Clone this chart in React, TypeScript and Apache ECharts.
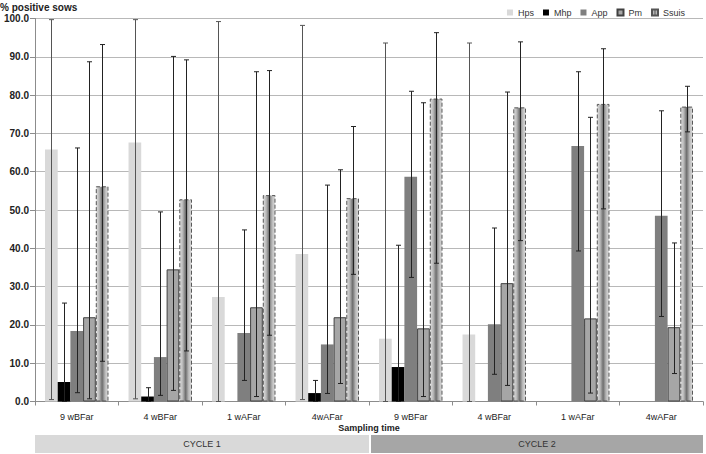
import React, { useEffect, useRef } from "react";
import * as echarts from "echarts";

const categories = ["9 wBFar", "4 wBFar", "1 wAFar", "4wAFar", "9 wBFar", "4 wBFar", "1 wAFar", "4wAFar"];
const cycles = ["CYCLE 1", "CYCLE 2"];
const yTicks = [0, 10, 20, 30, 40, 50, 60, 70, 80, 90, 100];

const hps = [65.8, 67.6, 27.3, 38.5, 16.4, 17.5, 0, 0];
const hpsLow = [0.5, 0.7, 0, 0.5, 0, 0, null, null];
const hpsHigh = [99.7, 99.7, 99.2, 98.2, 93.6, 93.6, null, null];

const mhp = [5.1, 1.3, 0, 2.2, 9.0, 0, 0, 0];
const mhpLow = [0, 0, null, 0, 0, null, null, null];
const mhpHigh = [25.7, 3.6, null, 5.5, 40.8, null, null, null];

const app = [18.4, 11.6, 17.9, 14.9, 58.7, 20.2, 66.7, 48.5];
const appLow = [2.3, 1.6, 5.5, 2.1, 32.4, 7.1, 39.3, 22.2];
const appHigh = [66.2, 49.5, 44.8, 56.5, 81.0, 45.3, 86.1, 75.9];

const pm = [22.0, 34.5, 24.6, 22.0, 19.1, 30.9, 21.7, 19.4];
const pmLow = [0.7, 2.9, 1.3, 4.7, 1.3, 4.2, 2.2, 7.3];
const pmHigh = [88.7, 90.1, 86.1, 60.5, 78.0, 80.8, 74.2, 41.4];

const ssuis = [56.2, 52.8, 53.9, 53.1, 79.1, 76.8, 77.7, 77.0];
const ssuisLow = [10.5, 13.2, 17.3, 33.2, 36.1, 42.0, 50.3, 70.4];
const ssuisHigh = [93.2, 89.2, 86.4, 71.8, 96.3, 93.9, 92.1, 82.3];

const GAP = 0.24;
const N = 5;

const ssuisFill = {
  type: "linear",
  x: 0, y: 0, x2: 1, y2: 0,
  colorStops: [
    { offset: 0, color: "#dedede" },
    { offset: 0.25, color: "#b8b8b8" },
    { offset: 0.5, color: "#6e6e6e" },
    { offset: 0.75, color: "#b8b8b8" },
    { offset: 1, color: "#dedede" },
  ],
};

function errData(low: (number | null)[], high: (number | null)[]) {
  const out: number[][] = [];
  low.forEach((l, i) => {
    const h = high[i];
    if (l !== null && h !== null) out.push([i, l, h]);
  });
  return out;
}

function errSeries(k: number, low: (number | null)[], high: (number | null)[], color: string) {
  return {
    type: "custom",
    name: "err" + k,
    z: 10,
    silent: true,
    encode: { x: 0, y: [1, 2] },
    data: errData(low, high),
    renderItem: (params: any, api: any) => {
      const idx = api.value(0);
      const lo = api.value(1);
      const hi = api.value(2);
      const catW = api.size([1, 0])[0];
      const groupW = catW * (1 - GAP);
      const barW = groupW / N;
      const c = api.coord([idx, 0]);
      const x = Math.round(c[0] - groupW / 2 + barW * (k + 0.5)) + 0.5;
      const yl = api.coord([idx, lo])[1];
      const yh = api.coord([idx, hi])[1];
      const cap = 2.5;
      const style = { stroke: color, lineWidth: 1 };
      return {
        type: "group",
        children: [
          { type: "line", shape: { x1: x, y1: yl, x2: x, y2: yh }, style },
          { type: "line", shape: { x1: x - cap, y1: yh, x2: x + cap, y2: yh }, style },
          { type: "line", shape: { x1: x - cap, y1: yl, x2: x + cap, y2: yl }, style },
        ],
      };
    },
  };
}

export default function App() {
  const ref = useRef<HTMLDivElement>(null);
  useEffect(() => {
    if (!ref.current) return;
    const chart = echarts.init(ref.current, null, { renderer: "svg" });
    const font = "'Liberation Sans Narrow', 'Liberation Sans', sans-serif";
    const barBase = { type: "bar", barGap: "0%", barCategoryGap: "24%" };
    chart.setOption({
      animation: false,
      backgroundColor: "#ffffff",
      textStyle: { fontFamily: font },
      grid: { left: 35, right: 3, top: 18.5, bottom: 52.5 },
      legend: {
        right: 16,
        top: 3,
        icon: "rect",
        itemWidth: 6,
        itemHeight: 6,
        itemGap: 9,
        textStyle: { fontSize: 9, color: "#333", fontFamily: font },
        data: ["Hps", "Mhp", "App", "Pm", "Ssuis"],
      },
      xAxis: {
        type: "category",
        data: categories,
        axisLine: { lineStyle: { color: "#8c8c8c" } },
        axisTick: { show: true, length: 4, lineStyle: { color: "#8c8c8c" } },
        axisLabel: { fontSize: 9, color: "#222", margin: 11, fontFamily: font, interval: 0 },
        splitLine: { show: false },
      },
      yAxis: {
        type: "value",
        min: yTicks[0],
        max: yTicks[yTicks.length - 1],
        interval: 10,
        axisLine: { show: true, lineStyle: { color: "#8c8c8c" } },
        axisTick: { show: true, length: 5, lineStyle: { color: "#8c8c8c" } },
        axisLabel: {
          fontSize: 10,
          fontWeight: "bold",
          color: "#222",
          margin: 6,
          fontFamily: "'Liberation Sans', sans-serif",
          formatter: (v: number) => v.toFixed(1),
        },
        splitLine: { show: true, lineStyle: { color: "#b8b8b8" } },
      },
      series: [
        { ...barBase, name: "Hps", data: hps, itemStyle: { color: "#d9d9d9" } },
        { ...barBase, name: "Mhp", data: mhp, itemStyle: { color: "#000000" } },
        { ...barBase, name: "App", data: app, itemStyle: { color: "#7f7f7f" } },
        { ...barBase, name: "Pm", data: pm, itemStyle: { color: "#a6a6a6", borderColor: "#404040", borderWidth: 1 } },
        {
          ...barBase,
          name: "Ssuis",
          data: ssuis,
          itemStyle: { color: ssuisFill, borderColor: "#555", borderWidth: 1, borderType: "dashed" },
        },
        errSeries(0, hpsLow, hpsHigh, "#555555"),
        errSeries(1, mhpLow, mhpHigh, "#222222"),
        errSeries(2, appLow, appHigh, "#222222"),
        errSeries(3, pmLow, pmHigh, "#222222"),
        errSeries(4, ssuisLow, ssuisHigh, "#222222"),
      ],
      graphic: [
        {
          type: "text",
          left: 0,
          top: 2,
          style: { text: "% positive sows", font: "bold 10px 'Liberation Sans', sans-serif", fill: "#222" },
        },
        {
          type: "text",
          x: 369,
          y: 428,
          style: {
            text: "Sampling time",
            font: "bold 9px " + font,
            fill: "#222",
            textAlign: "center",
            textVerticalAlign: "middle",
          },
        },
        { type: "rect", shape: { x: 35, y: 435, width: 334, height: 18 }, style: { fill: "#d9d9d9" } },
        { type: "rect", shape: { x: 371, y: 435, width: 332, height: 18 }, style: { fill: "#a6a6a6" } },
        {
          type: "text",
          x: 202,
          y: 444,
          style: { text: cycles[0], font: "9px " + font, fill: "#333", textAlign: "center", textVerticalAlign: "middle" },
        },
        {
          type: "text",
          x: 537,
          y: 444,
          style: { text: cycles[1], font: "9px " + font, fill: "#333", textAlign: "center", textVerticalAlign: "middle" },
        },
      ],
    });
    return () => chart.dispose();
  }, []);
  return (
    <div
      ref={ref}
      style={{ position: "fixed", left: 0, top: 0, width: 706, height: 454, background: "#fff" }}
    />
  );
}
